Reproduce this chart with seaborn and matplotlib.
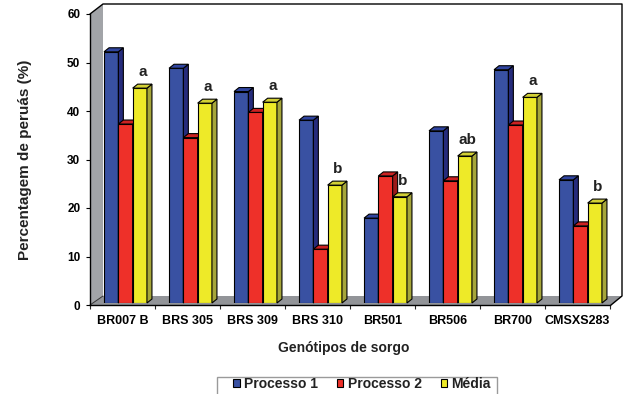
import numpy as np
import pandas as pd
import matplotlib
matplotlib.use("Agg")
import matplotlib.pyplot as plt
import seaborn as sns
from matplotlib.patches import Polygon, Rectangle, Patch
from matplotlib.lines import Line2D
from matplotlib.transforms import Affine2D

# ---- data ----
genotipos = ["BR007 B", "BRS 305", "BRS 309", "BRS 310", "BR501", "BR506", "BR700", "CMSXS283"]
processo_1 = [51.8, 48.4, 43.6, 37.7, 17.5, 35.5, 48.1, 25.4]
processo_2 = [36.9, 34.1, 39.3, 11.1, 26.2, 25.2, 36.7, 15.9]
media = [44.3, 41.2, 41.4, 24.3, 21.9, 30.3, 42.4, 20.6]
letras = ["a", "a", "a", "b", "b", "ab", "a", "b"]
series = ["Processo 1", "Processo 2", "Média"]
y_ticks = [0, 10, 20, 30, 40, 50, 60]

# ---- styling ----
front_colors = ["#3951A2", "#EE3029", "#EEEA28"]
top_colors = ["#3045A0", "#CC2222", "#D2D035"]
side_colors = ["#262C7C", "#9C1A1A", "#A6A63A"]
wall_color = "#A2A4A8"
floor_color = "#929498"

sns.set_style("white")
plt.rcParams["font.family"] = ["Liberation Sans", "DejaVu Sans"]
plt.rcParams["font.weight"] = "bold"

W, H = 627, 394
fig = plt.figure(figsize=(W / 100, H / 100), dpi=100)
fig.patch.set_facecolor("white")
# transform for pixel coordinates measured from the top-left corner
px = Affine2D().scale(1 / W, -1 / H).translate(0, 1) + fig.transFigure


def frac(x0, y_top, w, h):
    return [x0 / W, 1 - (y_top + h) / H, w / W, h / H]


# front plane: axis lines, ticks and tick labels
ax_front = fig.add_axes(frac(90, 14, 520, 291))
ax_front.set_zorder(0)
ax_front.patch.set_alpha(0)
ax_front.set_xlim(-0.5, 7.5)
ax_front.set_ylim(0, 60)
for s in ["top", "right"]:
    ax_front.spines[s].set_visible(False)
for s in ["left", "bottom"]:
    ax_front.spines[s].set_color("black")
    ax_front.spines[s].set_linewidth(1.0)
    ax_front.spines[s].set_zorder(5)
ax_front.set_yticks(y_ticks)
ax_front.set_yticklabels([str(v) for v in y_ticks], fontsize=8.5, fontweight="bold")
ax_front.tick_params(axis="y", direction="out", length=3, width=0.8, pad=4, colors="black", left=True)
ax_front.set_xticks(np.arange(-0.5, 8, 1))
ax_front.set_xticklabels([])
ax_front.tick_params(axis="x", which="major", direction="out", length=3, width=0.8, bottom=True)
ax_front.set_xticks(np.arange(8), minor=True)
ax_front.set_xticklabels(genotipos, minor=True, fontsize=9, fontweight="bold")
ax_front.tick_params(axis="x", which="minor", length=0, pad=7, colors="black")
ax_front.grid(False)

# walls and floor of the 3-D box
ax_front.add_patch(Rectangle((103, 4), 519, 292, facecolor="white", edgecolor="none",
                             transform=px, clip_on=False, zorder=0.5))
ax_front.add_patch(Polygon([(90, 14), (103, 4), (103, 296), (90, 305)], closed=True,
                           facecolor=wall_color, edgecolor="none", transform=px,
                           clip_on=False, zorder=1))
ax_front.add_patch(Polygon([(90, 305), (103, 296), (622, 296), (611, 305)], closed=True,
                           facecolor=floor_color, edgecolor="none", transform=px,
                           clip_on=False, zorder=1))
ax_front.add_line(Line2D([90, 103, 622, 622, 611], [14, 4, 4, 296, 305], color="black",
                         lw=1.0, transform=px, clip_on=False, zorder=2))
ax_front.add_line(Line2D([90, 103], [305, 296], color="#333333", lw=0.7,
                         transform=px, clip_on=False, zorder=2))

# bar plane
ax = fig.add_axes(frac(93, 12, 520, 291))
ax.set_zorder(1)
ax.patch.set_alpha(0)

df = pd.DataFrame({
    "Genótipo": np.tile(genotipos, 3),
    "Série": np.repeat(series, len(genotipos)),
    "Percentagem": np.concatenate([processo_1, processo_2, media]),
})
sns.barplot(data=df, x="Genótipo", y="Percentagem", hue="Série", order=genotipos,
            hue_order=series, palette=front_colors, saturation=1, width=0.66,
            edgecolor="black", linewidth=0.8, errorbar=None, legend=False, ax=ax)
ax.set_xlim(-0.5, 7.5)
ax.set_ylim(0, 60)
ax.axis("off")

# depth faces (top and right side) of every bar, offset in pixels
DX, DY = 5, 4
to_px = px.inverted()
for k, container in enumerate(ax.containers):
    for bar in container.patches:
        bar.set_zorder(2 + 2 * k)
        x0, w, h = bar.get_x(), bar.get_width(), bar.get_height()
        (X0, Yt), (X1, Yb) = to_px.transform(ax.transData.transform([(x0, h), (x0 + w, 0)]))
        top = [(X0, Yt), (X1, Yt), (X1 + DX, Yt - DY), (X0 + DX, Yt - DY)]
        side = [(X1, Yb), (X1, Yt), (X1 + DX, Yt - DY), (X1 + DX, Yb - DY)]
        ax.add_patch(Polygon(side, closed=True, facecolor=side_colors[k], edgecolor="black",
                             lw=0.8, transform=px, clip_on=False, zorder=3 + 2 * k))
        ax.add_patch(Polygon(top, closed=True, facecolor=top_colors[k], edgecolor="black",
                             lw=0.8, transform=px, clip_on=False, zorder=3 + 2 * k))

# significance letters above the mean bars
for bar, letra in zip(ax.containers[2].patches, letras):
    ax.annotate(letra, xy=(bar.get_x() + bar.get_width() / 2, bar.get_height()),
                xytext=(3 * 0.72, 16 * 0.72), textcoords="offset points",
                ha="center", va="center", fontsize=11, fontweight="bold",
                color="#222222", zorder=10, annotation_clip=False)

# axis titles
fig.text(25 / W, 1 - 160 / H, "Percentagem de peruás (%)", rotation=90, ha="center",
         va="center", fontsize=11, fontweight="bold", color="#222222")
fig.text(344 / W, 1 - 352 / H, "Genótipos de sorgo", ha="center", va="baseline",
         fontsize=10, fontweight="bold", color="#222222")

# legend with a plain grey box
fig.patches.append(Rectangle((217, 377), 280, 30, facecolor="white", edgecolor="#9A9A9A",
                             lw=1.0, transform=px, figure=fig, zorder=0))
handles = [Patch(facecolor=c, edgecolor="black", lw=0.8) for c in front_colors]
leg = fig.legend(handles, series, loc="center", bbox_to_anchor=(362 / W, 1 - 384 / H),
                 ncol=3, frameon=False, fontsize=10, handlelength=0.45, handleheight=0.45,
                 handletextpad=0.3, columnspacing=1.4, borderpad=0.0)
for t in leg.get_texts():
    t.set_fontweight("bold")
    t.set_color("#222222")

fig.savefig("out.png", dpi=100)
